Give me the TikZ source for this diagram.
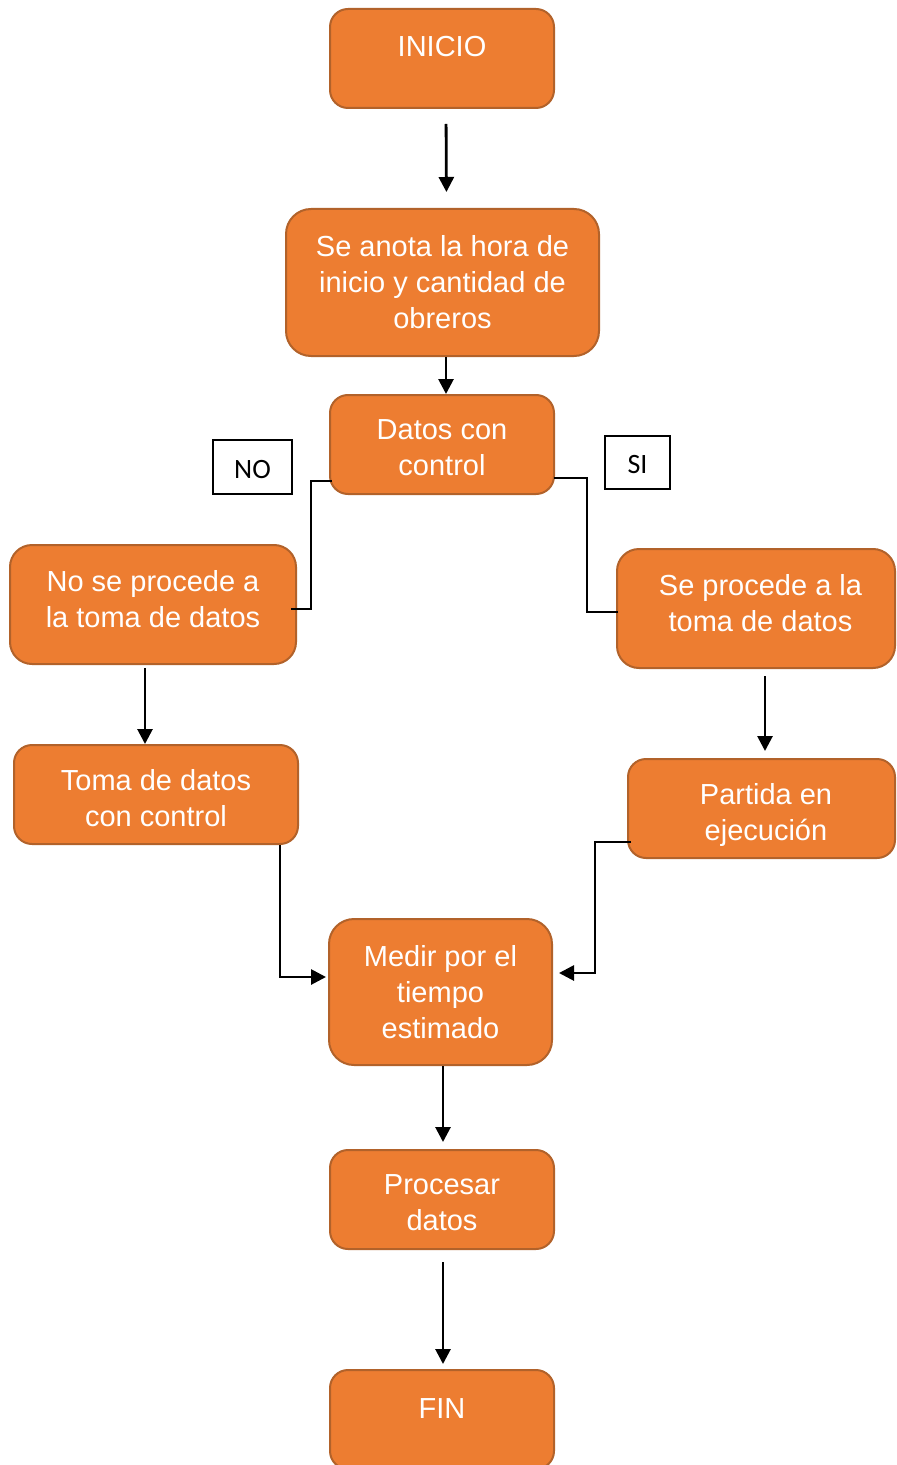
\documentclass[tikz,border=0pt]{standalone}
\usepackage{fontspec}
\setmainfont{Liberation Sans}
\newfontfamily\calfont{Carlito}
\usetikzlibrary{arrows.meta}
\definecolor{boxfill}{HTML}{ED7D31}
\definecolor{boxline}{HTML}{B2622A}
\begin{document}
\begin{tikzpicture}[x=0.5pt,y=-0.5pt,
  box/.style={draw=boxline, fill=boxfill, line width=1pt, inner sep=0pt},
  txt/.style={text=white, align=center, inner sep=0pt, font=\fontsize{14.5}{18}\selectfont},
  smallbox/.style={box, minimum width=112pt, minimum height=49.5pt, rounded corners=9pt},
  lab/.style={draw=black, line width=0.7pt, inner sep=0pt, font=\calfont\fontsize{14}{16}\selectfont},
  conn/.style={line width=1.4pt},
  arr/.style={conn, -{Triangle[length=7.5pt,width=7.5pt]}}]
\useasboundingbox (0,0) rectangle (896,1465);

% boxes
\node[smallbox, label={[txt, yshift=5.75pt]center:INICIO}] (inicio) at (442,58.5) {};
\node[box, minimum width=156.5pt, minimum height=73.5pt, rounded corners=12.5pt,
  label={[txt]center:Se anota la hora de\\inicio y cantidad de\\obreros}] (anota) at (442.5,282.5) {};
\node[smallbox, label={[txt, yshift=-1.75pt]center:Datos con\\control}] (datos) at (442,444.5) {};
\node[box, minimum width=143pt, minimum height=59.5pt, rounded corners=11pt,
  label={[txt, yshift=2.5pt]center:No se procede a\\la toma de datos}] (noproc) at (153,604.5) {};
\node[box, minimum width=139pt, minimum height=59.5pt, rounded corners=11pt,
  label={[txt, yshift=2.5pt, xshift=2.25pt]center:Se procede a la\\toma de datos}] (seproc) at (756,608.5) {};
\node[box, minimum width=142pt, minimum height=49.5pt, rounded corners=9pt,
  label={[txt, yshift=-2pt]center:Toma de datos\\con control}] (toma) at (156,794.5) {};
\node[box, minimum width=133.5pt, minimum height=49.5pt, rounded corners=9pt,
  label={[txt, yshift=-3pt, xshift=2.25pt]center:Partida en\\ejecución}] (partida) at (761.5,808.5) {};
\node[box, minimum width=111.5pt, minimum height=73pt, rounded corners=12.5pt,
  label={[txt]center:Medir por el\\tiempo\\estimado}] (medir) at (440.5,992) {};
\node[smallbox, label={[txt, yshift=-1.5pt]center:Procesar\\datos}] (procesar) at (442,1199.5) {};
\node[smallbox, label={[txt, yshift=5.25pt]center:FIN}] (fin) at (442,1419.5) {};

% labels
\node[lab, minimum width=39.5pt, minimum height=27pt] (no) at (252.5,467) {\raisebox{-1.25pt}[\height][\depth]{NO}};
\node[lab, minimum width=32.5pt, minimum height=26.5pt] (si) at (637.5,462.5) {\raisebox{-1pt}[\height][\depth]{SI}};

% connectors
\coordinate (nl1) at (311,481);
\coordinate (nl2) at (311,609);
\coordinate (sr1) at (587,478);
\coordinate (sr2) at (587,612);
\coordinate (pb) at (595,842);

\draw[arr, shorten <=7.5pt, shorten >=8pt] ([xshift=2pt]inicio.south) -- ([xshift=2pt]anota.north);
\draw[arr] ([xshift=1.75pt]anota.south) -- ([xshift=1.75pt]anota.south |- datos.north);
\draw[conn] ([xshift=1.5pt]datos.west |- nl1) -- (nl1) -- (nl2) -- ([xshift=-3pt]noproc.east |- nl2);
\draw[conn] ([xshift=-0.5pt]datos.east |- sr1) -- (sr1) -- (sr2) -- ([xshift=1pt]seproc.west |- sr2);
\draw[arr, shorten <=1.5pt] ([xshift=-4pt]noproc.south) -- ([xshift=-4pt]noproc.south |- toma.north);
\draw[arr, shorten <=3.5pt, shorten >=3.5pt] ([xshift=4.5pt]seproc.south) -- ([xshift=4.5pt]seproc.south |- partida.north);
\draw[arr] ([xshift=-9.5pt]toma.south east) |- ([xshift=-1pt,yshift=7.5pt]medir.west);
\draw[arr] ([xshift=2pt,yshift=-16.75pt]partida.west) -- (pb) |- ([xshift=3pt,yshift=9.5pt]medir.east);
\draw[arr, shorten >=3.5pt] ([xshift=1.25pt]medir.south) -- ([xshift=1.25pt]medir.south |- procesar.north);
\draw[arr, shorten <=6pt, shorten >=2.5pt] ([xshift=0.5pt]procesar.south) -- ([xshift=0.5pt]procesar.south |- fin.north);
\end{tikzpicture}
\end{document}
